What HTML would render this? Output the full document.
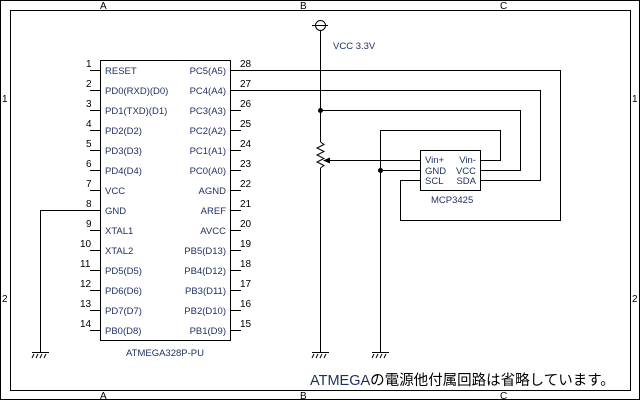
<!DOCTYPE html>
<html><head><meta charset="utf-8"><style>
html,body{margin:0;padding:0;background:#fff}
svg{display:block}
text{font-family:"Liberation Sans","DejaVu Sans",sans-serif;font-size:9.5px;fill:#1c2f5e}
.n{fill:#000;font-size:10px}
.f{fill:#000;font-size:10px}
</style></head><body>
<svg width="640" height="400" viewBox="0 0 640 400" xmlns="http://www.w3.org/2000/svg">
<g fill="none" stroke="#000" stroke-width="1" shape-rendering="crispEdges">
<rect x="0.5" y="0.5" width="639" height="399"/>
<rect x="10.5" y="10.5" width="620" height="380"/>
<rect x="100.5" y="60.5" width="130" height="280"/>
</g>
<g stroke="#000" stroke-width="1" fill="none" shape-rendering="crispEdges">
<path d="M90 70.5h10M90 90.5h10M90 110.5h10M90 130.5h10M90 150.5h10M90 170.5h10M90 190.5h10M90 210.5h10M90 230.5h10M90 250.5h10M90 270.5h10M90 290.5h10M90 310.5h10M90 330.5h10"/>
<path d="M231 70.5h10M231 90.5h10M231 110.5h10M231 130.5h10M231 150.5h10M231 170.5h10M231 190.5h10M231 210.5h10M231 230.5h10M231 250.5h10M231 270.5h10M231 290.5h10M231 310.5h10M231 330.5h10"/>
<path d="M241 70.5H560.5V220.5H400.5V180.5H420"/>
<path d="M241 90.5H540.5V180.5H480"/>
<path d="M320.5 30V142M320.5 168V352"/>
<path d="M320.5 110.5H520.5V170.5H480"/>
<path d="M380.5 352V130.5H500.5V160.5H480"/>
<path d="M380.5 170.5H420"/>
<path d="M328 160.5H420"/>
<path d="M100 210.5H40.5V352"/>
<rect x="420.5" y="150.5" width="60" height="40"/>
<line x1="312" y1="25.5" x2="328" y2="25.5"/>
<path d="M32 352.5h17M372 352.5h17M312 352.5h17"/>
</g>
<g stroke="#000" fill="none">
<circle cx="320.5" cy="25.5" r="5"/>
<path d="M320.5 142L324 144.5L317 148L324 151.5L317 155L324 158.5L317 162L324 165.5L320.5 168"/>
<path d="M34 354l-2 4M38 354l-2 4M42 354l-2 4M46 354l-2 4"/>
<path d="M314 354l-2 4M318 354l-2 4M322 354l-2 4M326 354l-2 4"/>
<path d="M374 354l-2 4M378 354l-2 4M382 354l-2 4M386 354l-2 4"/>
</g>
<g fill="#000">
<circle cx="320.5" cy="110.5" r="2.5"/>
<circle cx="380.5" cy="170.5" r="2.5"/>
<path d="M323 160.5L330 157.5V163.5Z"/>
</g>
<text class="f" x="100" y="9">A</text><text class="f" x="300" y="9">B</text><text class="f" x="500" y="9">C</text>
<text class="f" x="100" y="399">A</text><text class="f" x="300" y="399">B</text><text class="f" x="500" y="399">C</text>
<text class="f" x="2" y="102">1</text><text class="f" x="2" y="302">2</text>
<text class="f" x="632" y="102">1</text><text class="f" x="632" y="302">2</text>
<g>
<text class="n" x="86" y="67">1</text><text class="n" x="86" y="87">2</text><text class="n" x="86" y="107">3</text><text class="n" x="86" y="127">4</text><text class="n" x="86" y="147">5</text><text class="n" x="86" y="167">6</text><text class="n" x="86" y="187">7</text><text class="n" x="86" y="207">8</text><text class="n" x="86" y="227">9</text><text class="n" x="80" y="247">10</text><text class="n" x="80" y="267">11</text><text class="n" x="80" y="287">12</text><text class="n" x="80" y="307">13</text><text class="n" x="80" y="327">14</text>
<text class="n" x="240" y="67">28</text><text class="n" x="240" y="87">27</text><text class="n" x="240" y="107">26</text><text class="n" x="240" y="127">25</text><text class="n" x="240" y="147">24</text><text class="n" x="240" y="167">23</text><text class="n" x="240" y="187">22</text><text class="n" x="240" y="207">21</text><text class="n" x="240" y="227">20</text><text class="n" x="240" y="247">19</text><text class="n" x="240" y="267">18</text><text class="n" x="240" y="287">17</text><text class="n" x="240" y="307">16</text><text class="n" x="240" y="327">15</text>
</g>
<g>
<text x="105" y="74">RESET</text><text x="105" y="94">PD0(RXD)(D0)</text><text x="105" y="114">PD1(TXD)(D1)</text><text x="105" y="134">PD2(D2)</text><text x="105" y="154">PD3(D3)</text><text x="105" y="174">PD4(D4)</text><text x="105" y="194">VCC</text><text x="105" y="214">GND</text><text x="105" y="234">XTAL1</text><text x="105" y="254">XTAL2</text><text x="105" y="274">PD5(D5)</text><text x="105" y="294">PD6(D6)</text><text x="105" y="314">PD7(D7)</text><text x="105" y="334">PB0(D8)</text>
</g>
<g text-anchor="end">
<text x="226" y="74">PC5(A5)</text><text x="226" y="94">PC4(A4)</text><text x="226" y="114">PC3(A3)</text><text x="226" y="134">PC2(A2)</text><text x="226" y="154">PC1(A1)</text><text x="226" y="174">PC0(A0)</text><text x="226" y="194">AGND</text><text x="226" y="214">AREF</text><text x="226" y="234">AVCC</text><text x="226" y="254">PB5(D13)</text><text x="226" y="274">PB4(D12)</text><text x="226" y="294">PB3(D11)</text><text x="226" y="314">PB2(D10)</text><text x="226" y="334">PB1(D9)</text>
</g>
<text x="165" y="356" text-anchor="middle">ATMEGA328P-PU</text>
<text x="333" y="49">VCC 3.3V</text>
<text x="425" y="163">Vin+</text><text x="425" y="174">GND</text><text x="425" y="184">SCL</text>
<text x="476" y="163" text-anchor="end">Vin-</text><text x="476" y="174" text-anchor="end">VCC</text><text x="476" y="184" text-anchor="end">SDA</text>
<text x="431" y="203">MCP3425</text>
<text x="310" y="385" style="font-family:'Liberation Sans','Noto Sans CJK JP',sans-serif;font-size:14.5px;fill:#000"><tspan style="fill:#1c2f5e">ATMEGA</tspan>の電源他付属回路は省略しています。</text>
</svg>
</body></html>
